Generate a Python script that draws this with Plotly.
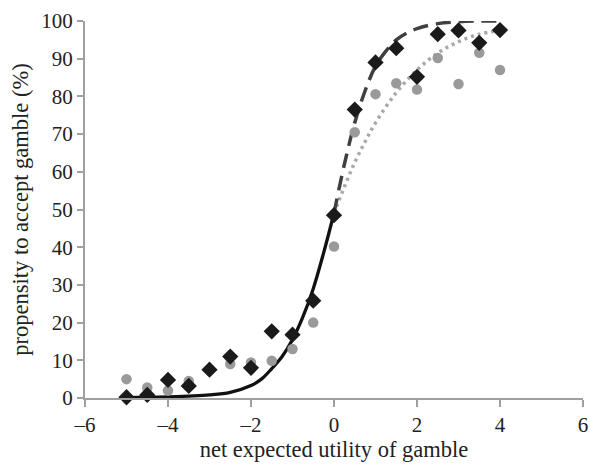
import plotly.graph_objects as go

# observed data
x_pts = [-5, -4.5, -4, -3.5, -3, -2.5, -2, -1.5, -1, -0.5, 0, 0.5, 1, 1.5, 2, 2.5, 3, 3.5, 4]
black_vals = [0.2, 0.8, 4.8, 3.2, 7.5, 11, 8, 17.7, 16.8, 25.8, 48.5, 76.5, 89, 92.8, 85.2, 96.5, 97.5, 94.2, 97.6]
grey_vals = [5.0, 2.8, 2.0, 4.5, 7.5, 9.0, 9.4, 9.9, 13.0, 20.0, 40.2, 70.5, 80.6, 83.5, 81.8, 90.2, 83.3, 91.6, 87.0]

# fitted curves
solid_x = [-5, -4.5, -4, -3.5, -3, -2.5, -2, -1.75, -1.5, -1.25, -1, -0.75, -0.5, -0.25, 0]
solid_y = [0.1, 0.2, 0.3, 0.5, 0.8, 1.5, 3.3, 5.0, 7.8, 11.0, 15.5, 21.5, 29.0, 38.5, 49.0]
dash_x = [0, 0.25, 0.5, 0.75, 1, 1.25, 1.5, 1.75, 2, 2.5, 3, 3.5, 4]
dash_y = [49.0, 62.0, 73.0, 81.5, 88.0, 92.0, 95.0, 96.8, 98.0, 99.3, 99.8, 100, 100]
dot_x = [0, 0.25, 0.5, 0.75, 1, 1.5, 2, 2.5, 3, 3.5, 4]
dot_y = [49.0, 56.0, 62.5, 68.0, 73.0, 81.0, 87.0, 91.5, 94.5, 96.5, 97.5]

x_ticks = [-6, -4, -2, 0, 2, 4, 6]
y_ticks = [0, 10, 20, 30, 40, 50, 60, 70, 80, 90, 100]

fig = go.Figure()
fig.add_trace(go.Scatter(x=dot_x, y=dot_y, mode="lines",
                         line=dict(color="#a8a8a8", width=3.5, dash="3px,4px", shape="spline")))
fig.add_trace(go.Scatter(x=dash_x, y=dash_y, mode="lines",
                         line=dict(color="#404040", width=3.5, dash="15px,8px", shape="spline")))
fig.add_trace(go.Scatter(x=solid_x, y=solid_y, mode="lines",
                         line=dict(color="#111111", width=3.3, shape="spline")))
fig.add_trace(go.Scatter(x=x_pts, y=grey_vals, mode="markers",
                         marker=dict(symbol="circle", size=10.5, color="#9a9a9a")))
fig.add_trace(go.Scatter(x=x_pts, y=black_vals, mode="markers",
                         marker=dict(symbol="diamond", size=12.5, color="#1a1a1a")))

font_family = "'Liberation Serif', 'Times New Roman', 'DejaVu Serif', serif"
fig.update_layout(
    width=590, height=468,
    margin=dict(l=85, r=7, t=21, b=70),
    paper_bgcolor="white", plot_bgcolor="white",
    showlegend=False,
    font=dict(family=font_family, size=21, color="#222222"),
)
fig.update_xaxes(
    range=[-6, 6], tickvals=x_ticks, ticktext=[("\u2013" + str(abs(v))) if v < 0 else str(v) for v in x_ticks],
    showgrid=False, zeroline=False, showline=True, linecolor="#a0a0a0", linewidth=2,
    ticks="outside", ticklen=7, tickwidth=2, tickcolor="#a0a0a0", automargin=False,
    tickfont=dict(size=21, family=font_family, color="#222222"),
    title=dict(text="net expected utility of gamble", font=dict(size=22.5, family=font_family), standoff=5),
)
fig.update_yaxes(
    range=[0, 100], tickvals=y_ticks,
    showgrid=False, zeroline=False, showline=True, linecolor="#a0a0a0", linewidth=2,
    ticks="outside", ticklen=6, tickwidth=2, tickcolor="#a0a0a0", automargin=False,
    tickfont=dict(size=21, family=font_family, color="#222222"),
    title=dict(text="propensity to accept gamble (%)", font=dict(size=22.5, family=font_family), standoff=6),
)
fig.update_traces(cliponaxis=False)
fig.write_html("out.html", config={"displayModeBar": False},
               post_script="document.body.style.margin='0';")
